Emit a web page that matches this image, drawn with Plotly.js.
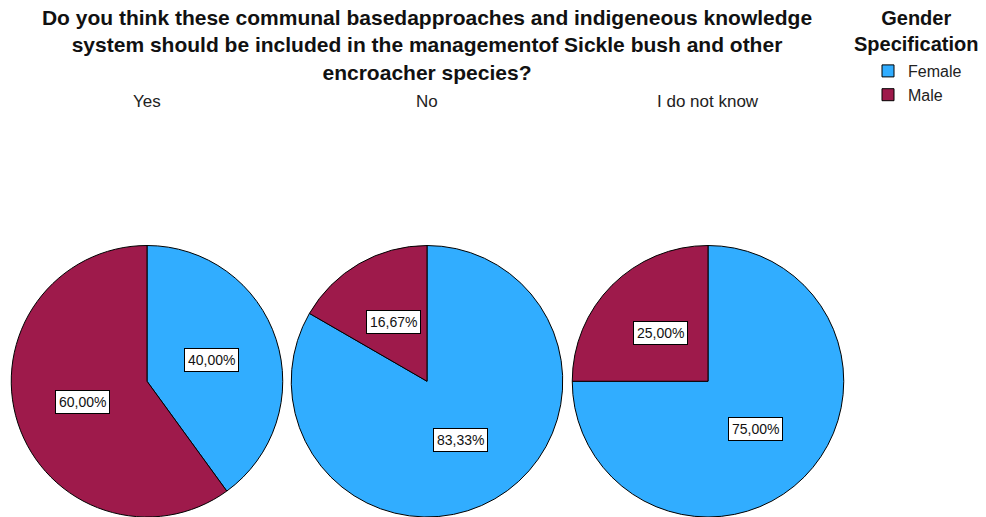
<!DOCTYPE html>
<html>
<head>
<meta charset="utf-8">
<script src="https://cdn.plot.ly/plotly-3.0.1.min.js"></script>
<style>html,body{margin:0;padding:0;background:#fff;}#chart{width:986px;height:517px;}</style>
</head>
<body>
<div id="chart"></div>
<script>
// ---- data ----
const answers = ["Yes", "No", "I do not know"];
const genders = ["Female", "Male"];
const femalePct = [40.00, 83.33, 75.00];
const malePct = [60.00, 16.67, 25.00];
const chartTitle = "Do you think these communal basedapproaches and indigeneous knowledge<br>system should be included in the managementof Sickle bush and other<br>encroacher species?";
const legendTitle = "Gender<br>Specification";

// ---- style ----
const W = 986, H = 517;
const colors = ["#31adff", "#9e1a4b"];
const FONT = "Liberation Sans, Arial, sans-serif";
const pieLeftPx = [10.5, 290.5, 571.5];
const pieSizePx = 273;
const pieTopPx = 245.5;

const traces = [];
const annotations = [];
answers.forEach((ans, i) => {
  const x0 = pieLeftPx[i] / W, x1 = (pieLeftPx[i] + pieSizePx) / W;
  const y1 = 1 - pieTopPx / H, y0 = 0;
  const vals = [femalePct[i], malePct[i]];
  traces.push({
    type: "pie",
    labels: genders,
    values: vals,
    sort: false,
    direction: "clockwise",
    rotation: 0,
    textinfo: "none",
    marker: { colors: colors, line: { color: "#000", width: 1 } },
    domain: { x: [x0, x1], y: [y0, y1] },
    showlegend: i === 0
  });
  // subplot header
  annotations.push({
    text: ans, xref: "paper", yref: "paper",
    x: (x0 + x1) / 2, y: 1 - 101 / H, xanchor: "center", yanchor: "middle",
    showarrow: false, font: { family: FONT, size: 17, color: "#222" }
  });
  // slice labels at mid-angle
  const cxPx = (x0 + x1) / 2 * W;
  const hPx = (y1 - y0) * H, wPx = (x1 - x0) * W;
  const R = Math.min(hPx, wPx) / 2;
  const cyPx = H - (y0 + y1) / 2 * H;
  const total = vals.reduce((a, b) => a + b, 0);
  let cum = 0;
  vals.forEach((v) => {
    const mid = (cum + v / 2) / total * 2 * Math.PI;
    cum += v;
    const px = cxPx + 0.5 * R * Math.sin(mid);
    const py = cyPx - 0.5 * R * Math.cos(mid);
    annotations.push({
      text: v.toFixed(2).replace(".", ",") + "%",
      xref: "paper", yref: "paper", x: px / W, y: 1 - py / H,
      xanchor: "center", yanchor: "middle", showarrow: false,
      bgcolor: "#fff", bordercolor: "#000", borderwidth: 1, borderpad: 3,
      font: { family: FONT, size: 14, color: "#111" }
    });
  });
});

annotations.push({
  text: legendTitle, xref: "paper", yref: "paper",
  x: 916 / W, y: 1 - 5 / H, xanchor: "center", yanchor: "top",
  showarrow: false, align: "center",
  font: { family: FONT, size: 20, color: "#111", weight: "bold" }
});

const layout = {
  width: W, height: H,
  margin: { l: 0, r: 0, t: 0, b: 0 },
  paper_bgcolor: "#fff",
  title: {
    text: chartTitle,
    x: 427 / W, xanchor: "center", xref: "paper",
    y: 1 - 25 / H, yanchor: "top", yref: "container",
    font: { family: FONT, size: 21, color: "#111", weight: "bold" }
  },
  showlegend: true,
  legend: {
    x: 868 / W, y: 1 - 54 / H, xanchor: "left", yanchor: "top",
    font: { family: FONT, size: 16, color: "#222" },
    traceorder: "normal", itemwidth: 30, tracegroupgap: 0,
    bgcolor: "rgba(0,0,0,0)"
  },
  annotations: annotations
};

Plotly.newPlot("chart", traces, layout, { staticPlot: true, displayModeBar: false });
</script>
</body>
</html>
